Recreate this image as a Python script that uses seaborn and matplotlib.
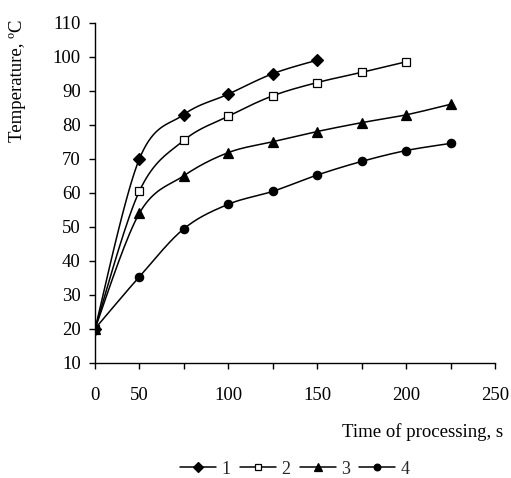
import numpy as np
import pandas as pd
import matplotlib
matplotlib.use("Agg")
import matplotlib.pyplot as plt
from matplotlib.lines import Line2D
import seaborn as sns

# ---- data ----
categories = [0, 50, 75, 100, 125, 150, 175, 200, 225, 250]
tick_labels = ["0", "50", "", "100", "", "150", "", "200", "", "250"]

time1 = [0, 50, 75, 100, 125, 150]
temp1 = [20, 70, 83, 89, 95, 99]
time2 = [0, 50, 75, 100, 125, 150, 175, 200]
temp2 = [20, 60.5, 75.4, 82.5, 88.5, 92.4, 95.4, 98.5]
time3 = [0, 50, 75, 100, 125, 150, 175, 200, 225]
temp3 = [20, 54, 65, 71.8, 75, 78, 80.6, 82.9, 86]
time4 = [0, 50, 75, 100, 125, 150, 175, 200, 225]
temp4 = [20, 35.3, 49.4, 56.6, 60.4, 65.2, 69.2, 72.4, 74.5]

series_names = ["1", "2", "3", "4"]
series_time = [time1, time2, time3, time4]
series_temp = [temp1, temp2, temp3, temp4]
markers = ["D", "s", "^", "o"]
facecolors = ["black", "white", "black", "black"]
msizes = [6.2, 5.5, 6.8, 6.0]

sns.set_style("ticks")
plt.rcParams["font.family"] = ["Liberation Serif", "DejaVu Serif"]
FS = 13.5

fig = plt.figure(figsize=(5.11, 4.78), dpi=100)
ax = fig.add_axes([95 / 511, 1 - 362.7 / 478, 400 / 511, 340 / 478])


def smooth(x, y, n=20):
    # Bezier smoothing (Catmull-Rom style) for drawing the connecting curve
    P = np.column_stack([x, y]).astype(float)
    ext = np.vstack([P[0], P, P[-1]])
    out = []
    t = np.linspace(0, 1, n)[:, None]
    for i in range(len(P) - 1):
        p0, p1, p2, p3 = ext[i], ext[i + 1], ext[i + 2], ext[i + 3]
        c1 = p1 + (p2 - p0) / 6
        c2 = p2 - (p3 - p1) / 6
        seg = ((1 - t) ** 3) * p1 + 3 * ((1 - t) ** 2) * t * c1 + 3 * (1 - t) * t ** 2 * c2 + t ** 3 * p2
        out.append(seg if i == 0 else seg[1:])
    out = np.vstack(out)
    return out[:, 0], out[:, 1]


handles = []
for name, tm, tp, mk, fc, ms in zip(series_names, series_time, series_temp, markers, facecolors, msizes):
    pos = [categories.index(v) for v in tm]
    sx, sy = smooth(pos, tp)
    df_line = pd.DataFrame({"x": sx, "y": sy})
    sns.lineplot(data=df_line, x="x", y="y", ax=ax, color="black", lw=1.1,
                 sort=False, estimator=None, zorder=2)
    df_pts = pd.DataFrame({"x": pos, "y": tp})
    ax.plot(df_pts["x"], df_pts["y"], ls="none", marker=mk, ms=ms,
            mfc=fc, mec="black", mew=0.9, zorder=3)
    handles.append(Line2D([0], [0], color="black", lw=1.1, marker=mk,
                          ms=ms * 0.8, mfc=fc, mec="black", mew=0.9, label=name))

ax.set_xlim(0, 9)
ax.set_ylim(10, 110)
ax.set_xticks(range(len(categories)))
ax.set_xticklabels(tick_labels)
ax.set_yticks(np.arange(10, 111, 10))
ax.set_xlabel("")
ax.set_ylabel("")
sns.despine(ax=ax)
for s in ["left", "bottom"]:
    ax.spines[s].set_linewidth(1.0)
    ax.spines[s].set_color("black")
ax.tick_params(axis="both", direction="out", length=4.3, width=1.0, color="black",
               labelsize=FS, labelcolor="black")
ax.tick_params(axis="x", pad=13)
ax.tick_params(axis="y", pad=6)

fig.text(503 / 511, 1 - 432 / 478, "Time of processing, s", ha="right", va="center",
         fontsize=FS, color="black")
fig.text(18 / 511, 1 - 81 / 478, "Temperature, ºC", rotation=90, ha="center",
         va="center", fontsize=FS, color="black")

fig.legend(handles=handles, loc="center", bbox_to_anchor=(295 / 511, 1 - 469 / 478),
           ncol=4, frameon=False, fontsize=13, handlelength=2.0, columnspacing=0.5,
           handletextpad=0.3, borderpad=0)

fig.savefig("out.png", dpi=100)
